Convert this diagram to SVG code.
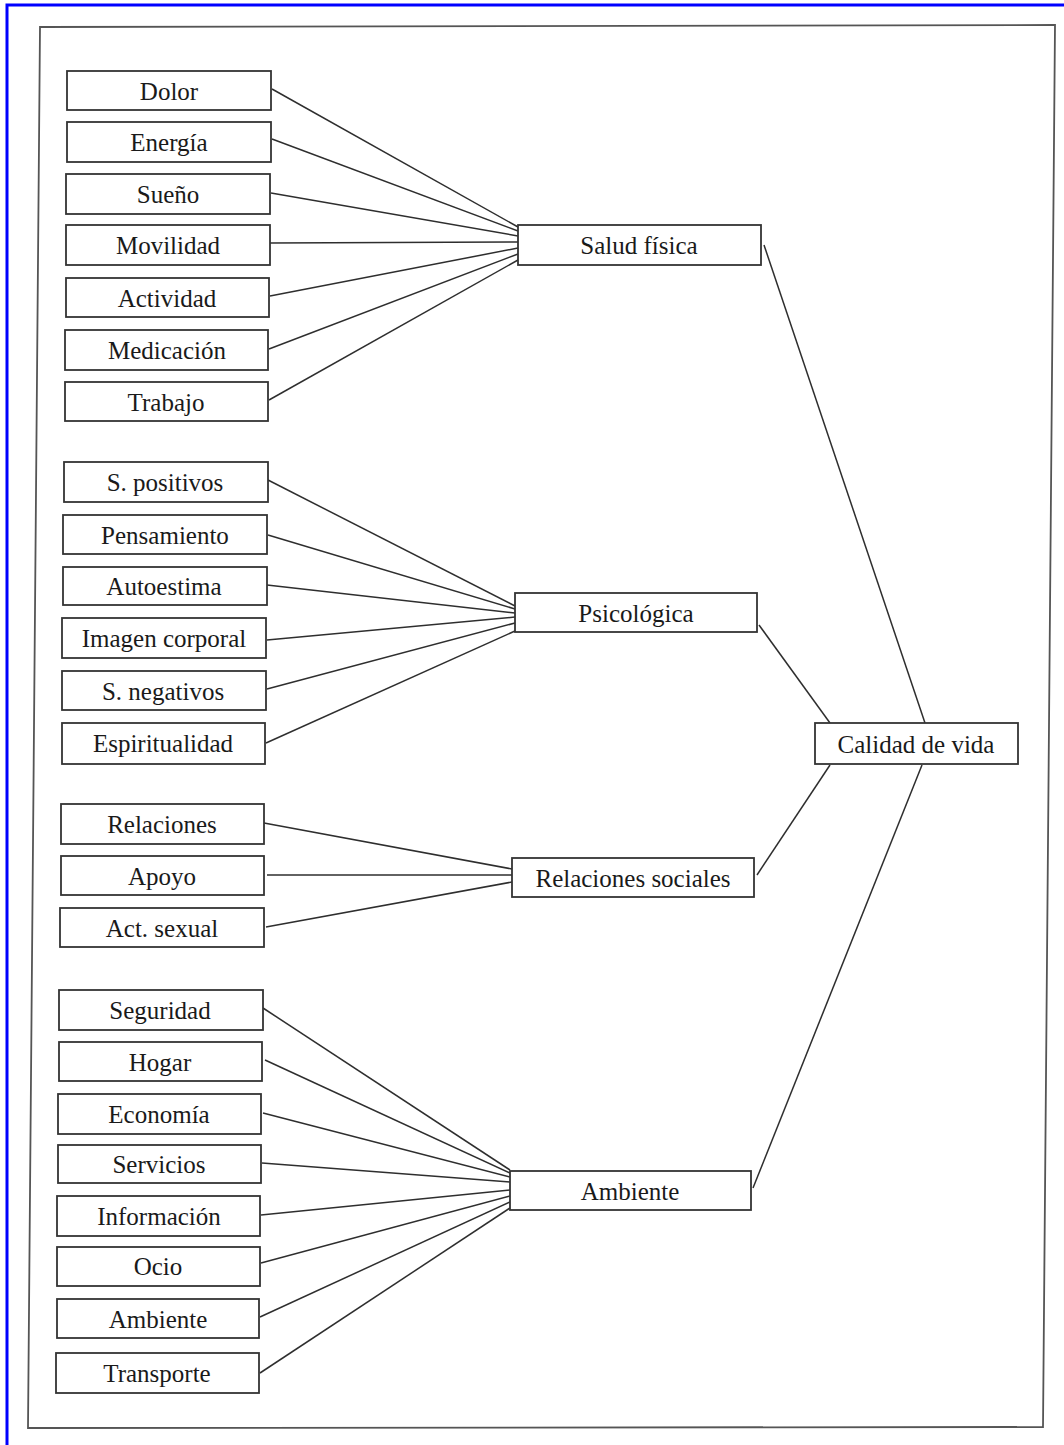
<svg xmlns="http://www.w3.org/2000/svg" width="1064" height="1445" viewBox="0 0 1064 1445">
<style>
.box{fill:#fff;stroke:#333;stroke-width:1.8}
.t{font-family:"Liberation Serif","DejaVu Serif",serif;font-size:25px;fill:#1a1a1a;text-anchor:middle;dominant-baseline:central}
.c line{stroke:#2e2e2e;stroke-width:1.5;fill:none}
</style>
<rect x="0" y="0" width="1064" height="1445" fill="#fff"/>
<path d="M7,1445 L7,5 L1064,5" fill="none" stroke="#0000ff" stroke-width="3"/>
<polygon points="40,27 1055,25 1043,1427 28,1428" fill="none" stroke="#555" stroke-width="1.8"/>

<g class="c" id="connectors">
<line x1="272" y1="89" x2="518" y2="227"/>
<line x1="272" y1="139" x2="518" y2="231"/>
<line x1="271" y1="193" x2="518" y2="236"/>
<line x1="270" y1="243" x2="518" y2="242"/>
<line x1="270" y1="296" x2="518" y2="248"/>
<line x1="269" y1="349" x2="518" y2="254"/>
<line x1="269" y1="400" x2="518" y2="260"/>
<line x1="268" y1="480" x2="515" y2="606"/>
<line x1="268" y1="535" x2="515" y2="609"/>
<line x1="267" y1="585" x2="515" y2="613"/>
<line x1="267" y1="640" x2="515" y2="617"/>
<line x1="267" y1="689" x2="515" y2="623"/>
<line x1="266" y1="743" x2="515" y2="631"/>
<line x1="264" y1="823" x2="512" y2="869"/>
<line x1="267" y1="875" x2="512" y2="875"/>
<line x1="266" y1="927" x2="512" y2="882"/>
<line x1="263" y1="1008" x2="510" y2="1170"/>
<line x1="265" y1="1060" x2="510" y2="1173"/>
<line x1="263" y1="1113" x2="510" y2="1177"/>
<line x1="262" y1="1163" x2="510" y2="1182"/>
<line x1="261" y1="1215" x2="510" y2="1190"/>
<line x1="261" y1="1263" x2="510" y2="1196"/>
<line x1="260" y1="1317" x2="510" y2="1202"/>
<line x1="260" y1="1373" x2="510" y2="1208"/>
<line x1="764" y1="245" x2="925" y2="723"/>
<line x1="759" y1="625" x2="830" y2="723"/>
<line x1="757" y1="875" x2="830" y2="765"/>
<line x1="753" y1="1188" x2="922" y2="765"/>
</g>

<g id="n-dolor"><rect class="box" x="67" y="71" width="204" height="39"/><text class="t" x="169" y="91">Dolor</text></g>
<g id="n-energia"><rect class="box" x="67" y="122" width="204" height="40"/><text class="t" x="169" y="142">Energía</text></g>
<g id="n-sueno"><rect class="box" x="66" y="174" width="204" height="40"/><text class="t" x="168" y="194">Sueño</text></g>
<g id="n-movilidad"><rect class="box" x="66" y="225" width="204" height="40"/><text class="t" x="168" y="245">Movilidad</text></g>
<g id="n-actividad"><rect class="box" x="66" y="278" width="203" height="39"/><text class="t" x="167" y="298">Actividad</text></g>
<g id="n-medicacion"><rect class="box" x="65" y="330" width="203" height="40"/><text class="t" x="167" y="350">Medicación</text></g>
<g id="n-trabajo"><rect class="box" x="65" y="382" width="203" height="39"/><text class="t" x="166" y="402">Trabajo</text></g>

<g id="n-spositivos"><rect class="box" x="64" y="462" width="204" height="40"/><text class="t" x="165" y="482">S. positivos</text></g>
<g id="n-pensamiento"><rect class="box" x="63" y="515" width="204" height="39"/><text class="t" x="165" y="535">Pensamiento</text></g>
<g id="n-autoestima"><rect class="box" x="63" y="567" width="204" height="38"/><text class="t" x="164" y="586">Autoestima</text></g>
<g id="n-imagen"><rect class="box" x="62" y="618" width="204" height="40"/><text class="t" x="164" y="638">Imagen corporal</text></g>
<g id="n-snegativos"><rect class="box" x="62" y="671" width="204" height="39"/><text class="t" x="163" y="691">S. negativos</text></g>
<g id="n-espiritualidad"><rect class="box" x="62" y="723" width="203" height="41"/><text class="t" x="163" y="743">Espiritualidad</text></g>

<g id="n-relaciones"><rect class="box" x="61" y="804" width="203" height="40"/><text class="t" x="162" y="824">Relaciones</text></g>
<g id="n-apoyo"><rect class="box" x="61" y="856" width="203" height="39"/><text class="t" x="162" y="876">Apoyo</text></g>
<g id="n-actsexual"><rect class="box" x="60" y="908" width="204" height="39"/><text class="t" x="162" y="928">Act. sexual</text></g>

<g id="n-seguridad"><rect class="box" x="59" y="990" width="204" height="40"/><text class="t" x="160" y="1010">Seguridad</text></g>
<g id="n-hogar"><rect class="box" x="59" y="1042" width="203" height="39"/><text class="t" x="160" y="1062">Hogar</text></g>
<g id="n-economia"><rect class="box" x="58" y="1094" width="203" height="40"/><text class="t" x="159" y="1114">Economía</text></g>
<g id="n-servicios"><rect class="box" x="58" y="1145" width="203" height="38"/><text class="t" x="159" y="1164">Servicios</text></g>
<g id="n-informacion"><rect class="box" x="57" y="1196" width="203" height="40"/><text class="t" x="159" y="1216">Información</text></g>
<g id="n-ocio"><rect class="box" x="57" y="1247" width="203" height="39"/><text class="t" x="158" y="1266">Ocio</text></g>
<g id="n-ambiente2"><rect class="box" x="57" y="1299" width="202" height="39"/><text class="t" x="158" y="1319">Ambiente</text></g>
<g id="n-transporte"><rect class="box" x="56" y="1353" width="203" height="40"/><text class="t" x="157" y="1373">Transporte</text></g>

<g id="n-salud"><rect class="box" x="518" y="225" width="243" height="40"/><text class="t" x="639" y="245">Salud física</text></g>
<g id="n-psicologica"><rect class="box" x="515" y="593" width="242" height="39"/><text class="t" x="636" y="613">Psicológica</text></g>
<g id="n-relsociales"><rect class="box" x="512" y="858" width="242" height="39"/><text class="t" x="633" y="878">Relaciones sociales</text></g>
<g id="n-ambiente"><rect class="box" x="510" y="1171" width="241" height="39"/><text class="t" x="630" y="1191">Ambiente</text></g>
<g id="n-calidad"><rect class="box" x="815" y="723" width="203" height="41"/><text class="t" x="916" y="744">Calidad de vida</text></g>
</svg>
